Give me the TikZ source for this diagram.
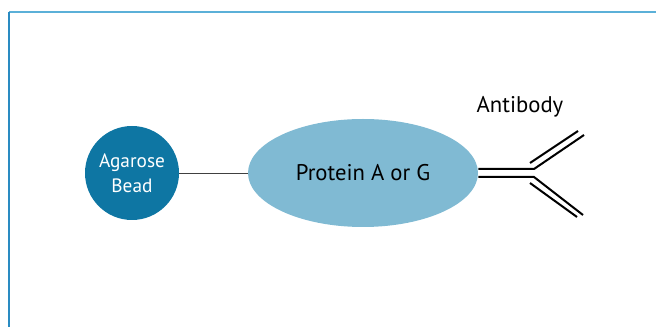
\documentclass[tikz,border=0pt]{standalone}
\usepackage{fontspec}
\setmainfont{PT Sans}
\usetikzlibrary{shapes.geometric}

\definecolor{beadblue}{HTML}{0E76A3}
\definecolor{protblue}{HTML}{80BAD3}
\definecolor{frametop}{HTML}{5BB0D8}
\definecolor{frameleft}{HTML}{2A8BC2}

\tikzset{
  bead/.style={circle, fill=beadblue, text=white, minimum size=70.5pt,
    inner sep=0pt, align=center, font=\fontsize{14.5}{19}\selectfont},
  protein/.style={ellipse, fill=protblue, minimum width=172.5pt,
    minimum height=81pt, inner sep=0pt, font=\fontsize{17}{20}\selectfont},
  arm/.style={line width=1.5pt}
}

\begin{document}
\begin{tikzpicture}[x=0.75pt, y=-0.75pt]
      \useasboundingbox (0, 0) rectangle (656, 327);
      \draw[frametop, line width=1.5pt](9, 12) to (656, 12);
      \draw[frameleft, line width=1.5pt](9, 12) to (9, 327);

      \node[bead] (bead) at (132, 173){Agarose\\Bead};
      \node[protein] (prot) at (363, 173){Protein A or G};
      \node[font=\fontsize{17}{20}\selectfont] (ablabel) at (520, 107){Antibody};

      \draw[black!75, line width=0.6pt](bead) to (prot);

      % antibody: stem and the two arms
      \coordinate (hingeup) at (534, 169);
      \coordinate (hingedn) at (534, 177);
      \draw[arm](prot.east) ++(0, -4) to (hingeup) to (584, 135);
      \draw[arm](prot.east) ++(0, 4) to (hingedn) to (583, 215);
        \draw[arm](530, 163) to (578, 131);
        \draw[arm](530, 183) to (577, 217);
    \end{tikzpicture}
\end{document}
